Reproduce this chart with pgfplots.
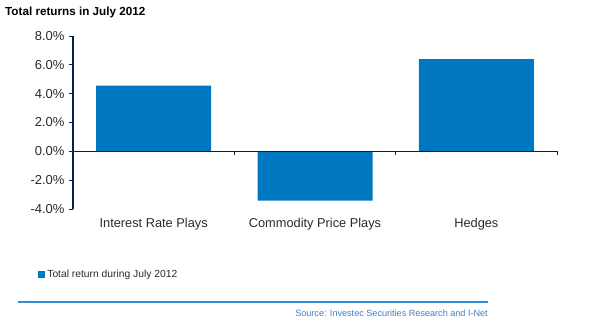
\documentclass[border=0pt]{standalone}
\usepackage{pgfplots}
\pgfplotsset{compat=1.18}
\usepackage{fontspec}
\setmainfont{Liberation Sans}
\definecolor{barblue}{HTML}{0077C1}
\definecolor{axnavy}{HTML}{0D1B4D}
\definecolor{lineblue}{HTML}{2F8FDA}
\definecolor{srcblue}{HTML}{3F7EC4}
\definecolor{txt}{HTML}{2A2A2A}
\begin{document}
\begin{tikzpicture}
\useasboundingbox (-73pt,-123pt) rectangle (529pt,209pt);
\begin{axis}[
  at={(0,0)}, anchor=south west,
  scale only axis, width=484pt, height=173pt,
  xmin=-0.5, xmax=2.5, ymin=-4, ymax=8,
  axis x line=none,
  axis y line*=left,
  y axis line style={axnavy, line width=1.6pt, -},
  ytick={-4,-2,0,2,4,6,8},
  yticklabel={\pgfmathprintnumber[fixed,fixed zerofill,precision=1]{\tick}\%},
  /pgf/number format/assume math mode=true,
  ytick style={axnavy, line width=1pt},
  tick align=outside, major tick length=4pt,
  yticklabel style={font=\fontsize{13}{15}\selectfont, text=txt, xshift=-1pt},
  clip=false,
  legend style={at={(rel axis cs:-0.072,-0.38)}, anchor=west, draw=none, fill=none,
    font=\fontsize{10.3}{12}\selectfont, text=txt, inner sep=0pt},
  legend image code/.code={\fill[barblue] (0pt,-3.5pt) rectangle (7pt,3.5pt);},
]
\addplot[ybar, bar width=115pt, fill=barblue, draw=none] coordinates {(0,4.55) (1,-3.42) (2,6.40)};
\addlegendentry{Total return during July 2012}
\draw[axnavy, line width=1.3pt] (axis cs:-0.5,0) -- (axis cs:2.5,0);
\draw[axnavy, line width=0.8pt] (axis cs:0.5,0) -- ++(0pt,-4pt);
\draw[axnavy, line width=0.8pt] (axis cs:1.5,0) -- ++(0pt,-4pt);
\draw[axnavy, line width=0.8pt] (axis cs:2.5,0) -- ++(0pt,-4pt);
\node[font=\fontsize{12.8}{14}\selectfont, text=txt] at (axis cs:0,-4) [yshift=-15pt] {Interest Rate Plays};
\node[font=\fontsize{12.8}{14}\selectfont, text=txt] at (axis cs:1,-4) [yshift=-15pt] {Commodity Price Plays};
\node[font=\fontsize{12.8}{14}\selectfont, text=txt] at (axis cs:2,-4) [yshift=-15pt] {Hedges};
\end{axis}
\node[anchor=west, font=\bfseries\fontsize{11.7}{13}\selectfont, inner sep=0pt] at (-68pt,197pt) {Total returns in July 2012};
\draw[lineblue, line width=2pt] (-55pt,-92.7pt) -- (415pt,-92.7pt);
\node[anchor=east, font=\fontsize{9.1}{11}\selectfont, text=srcblue, inner sep=0pt] at (415pt,-104pt) {Source: Investec Securities Research and I-Net};
\end{tikzpicture}
\end{document}
